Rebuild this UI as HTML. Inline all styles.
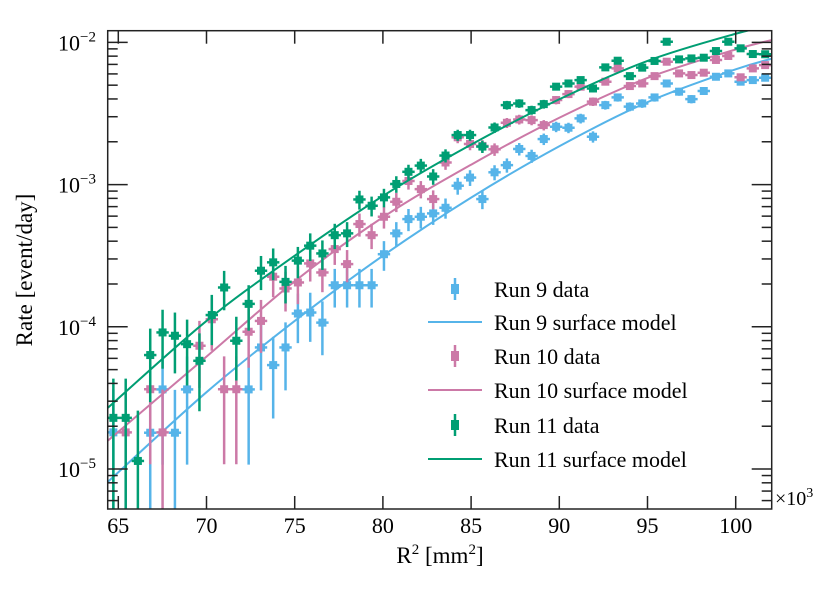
<!DOCTYPE html>
<html><head><meta charset="utf-8">
<style>
html,body{margin:0;padding:0;background:#fff;overflow:hidden;width:830px;height:599px;}
svg{display:block;}
svg text{font-family:"Liberation Serif",serif;fill:#000;}
</style></head>
<body>
<svg id="chart" width="830" height="599" xmlns="http://www.w3.org/2000/svg">
<defs><clipPath id="clip"><rect x="107.7" y="30.7" width="664" height="478.3"/></clipPath></defs>
<g id="series" clip-path="url(#clip)"></g>
<g id="axes"></g>
<g id="legend"></g>
</svg>
<script>
const binCenters = [64.72,65.42,66.11,66.81,67.51,68.21,68.90,69.60,70.30,71.00,71.69,72.39,73.09,73.78,74.48,75.18,75.88,76.57,77.27,77.97,78.67,79.36,80.06,80.76,81.45,82.15,82.85,83.55,84.24,84.94,85.64,86.33,87.03,87.73,88.43,89.12,89.82,90.52,91.21,91.91,92.61,93.31,94.00,94.70,95.40,96.09,96.79,97.49,98.19,98.88,99.58,100.28,100.97,101.67];
const run9Data = [1.81e-5,null,null,1.80e-5,3.63e-5,1.80e-5,3.63e-5,null,null,null,null,3.63e-5,7.16e-5,5.38e-5,7.16e-5,1.24e-4,1.26e-4,1.07e-4,1.96e-4,1.96e-4,1.96e-4,1.96e-4,3.24e-4,4.54e-4,5.72e-4,5.94e-4,6.27e-4,6.87e-4,9.82e-4,1.12e-3,7.91e-4,1.22e-3,1.37e-3,1.78e-3,1.59e-3,2.09e-3,2.55e-3,2.51e-3,2.92e-3,2.17e-3,3.62e-3,4.10e-3,3.53e-3,3.72e-3,4.10e-3,5.14e-3,4.50e-3,3.99e-3,4.55e-3,5.73e-3,6.05e-3,5.29e-3,5.43e-3,5.64e-3];
const run10Data = [null,1.81e-5,null,3.64e-5,1.81e-5,null,null,7.36e-5,1.13e-4,3.64e-5,3.64e-5,9.23e-5,1.10e-4,2.25e-4,1.86e-4,2.05e-4,2.79e-4,2.41e-4,3.52e-4,2.76e-4,5.28e-4,4.41e-4,5.94e-4,7.57e-4,1.06e-3,9.29e-4,7.91e-4,1.43e-3,2.15e-3,1.93e-3,1.87e-3,1.77e-3,2.72e-3,2.87e-3,2.84e-3,2.62e-3,3.93e-3,4.33e-3,4.88e-3,3.83e-3,5.29e-3,6.56e-3,4.93e-3,5.14e-3,5.79e-3,7.31e-3,6.05e-3,5.89e-3,6.12e-3,7.52e-3,8.02e-3,5.68e-3,6.56e-3,6.92e-3];
const run11Data = [2.29e-5,2.29e-5,1.14e-5,6.33e-5,9.13e-5,8.65e-5,7.55e-5,5.77e-5,1.21e-4,1.89e-4,7.98e-5,1.45e-4,2.48e-4,2.84e-4,2.07e-4,2.92e-4,3.72e-4,3.28e-4,4.41e-4,4.54e-4,7.86e-4,7.10e-4,8.13e-4,1.01e-3,1.23e-3,1.36e-3,1.14e-3,1.60e-3,2.23e-3,2.23e-3,1.85e-3,2.52e-3,3.62e-3,3.72e-3,3.34e-3,3.68e-3,4.88e-3,5.14e-3,5.43e-3,4.74e-3,6.67e-3,7.43e-3,5.79e-3,6.64e-3,7.40e-3,1.01e-2,7.59e-3,7.71e-3,7.80e-3,8.69e-3,1.01e-2,9.08e-3,8.28e-3,8.25e-3];
const modelX = [64.4,70,75,80,85,90,95,100,102.2];
const run9Model = [8.1e-6,3.47e-5,1.10e-4,3.16e-4,8.1e-4,1.86e-3,3.8e-3,6.46e-3,7.76e-3];
const run10Model = [1.58e-5,6.17e-5,2.09e-4,5.89e-4,1.38e-3,2.95e-3,5.62e-3,8.91e-3,1.05e-2];
const run11Model = [2.69e-5,1.10e-4,3.16e-4,8.32e-4,1.91e-3,3.98e-3,7.41e-3,1.15e-2,1.32e-2];
const xTicks = [65,70,75,80,85,90,95,100];
const yDecades = [-5,-4,-3,-2];
const legendLabels = ["Run 9 data","Run 9 surface model","Run 10 data","Run 10 surface model","Run 11 data","Run 11 surface model"];

const NS="http://www.w3.org/2000/svg";
const L=107.7,R=771.7,T=30.7,B=509;
const LMIN=-5.281,LMAX=-1.918;
function xs(v){return 118.3+(v-65)*17.64;}
function ys(v){return T+(LMAX-Math.log10(v))/(LMAX-LMIN)*(B-T);}
function mk(tag,attrs,parent){const e=document.createElementNS(NS,tag);for(const k in attrs)e.setAttribute(k,attrs[k]);parent.appendChild(e);return e;}
const gS=document.getElementById('series'),gA=document.getElementById('axes'),gL=document.getElementById('legend');
const colors=["#56B4E9","#CC79A7","#009E73"];
const datas=[run9Data,run10Data,run11Data];
const models=[run9Model,run10Model,run11Model];
const names=["run9","run10","run11"];

function smoothPath(xsArr,ysArr){
  const p=xsArr.map((x,i)=>[xs(x),ys(ysArr[i])]);
  let d="M"+p[0][0]+","+p[0][1];
  for(let i=0;i<p.length-1;i++){
    const p0=p[Math.max(0,i-1)],p1=p[i],p2=p[i+1],p3=p[Math.min(p.length-1,i+2)];
    const c1=[p1[0]+(p2[0]-p0[0])/6,p1[1]+(p2[1]-p0[1])/6];
    const c2=[p2[0]-(p3[0]-p1[0])/6,p2[1]-(p3[1]-p1[1])/6];
    d+=" C"+c1[0]+","+c1[1]+" "+c2[0]+","+c2[1]+" "+p2[0]+","+p2[1];
  }
  return d;
}

for(let s=0;s<3;s++){
  const g=mk('g',{},gS);
  
  
  const m=mk('path',{d:smoothPath(modelX,models[s]),fill:'none',stroke:colors[s],'stroke-width':2},g);
  
  
  datas[s].forEach((v,i)=>{
    if(v==null)return;
    const x=xs(binCenters[i]),y=ys(v);
    const rel=Math.sqrt(1.8e-5/v);
    const up=ys(v*(1+rel));
    const lo=(1-rel)>0.001?ys(v*(1-rel)):B+5;
    const pt=mk('g',{},g);
    
    
    mk('line',{x1:x,x2:x,y1:up,y2:lo,stroke:colors[s],'stroke-width':2.5},pt);
    mk('line',{x1:x-6.2,x2:x+6.2,y1:y,y2:y,stroke:colors[s],'stroke-width':2.5},pt);
    mk('rect',{x:x-4,y:y-4,width:8,height:8,fill:colors[s]},pt);
  });
}

const fr=mk('rect',{x:L,y:T,width:R-L,height:B-T,fill:'none',stroke:'#222','stroke-width':1.5},gA);


xTicks.forEach(t=>{
  const x=xs(t);
  mk('line',{x1:x,x2:x,y1:B,y2:B-13,stroke:'#222','stroke-width':1.5},gA);
  mk('line',{x1:x,x2:x,y1:T,y2:T+13,stroke:'#222','stroke-width':1.5},gA);
  const tx=mk('text',{x:x,y:B+24,'text-anchor':'middle','font-size':22},gA);
  tx.textContent=t;
  
  
});
for(let d=-6;d<=-2;d++){
  for(let k=1;k<10;k++){
    const lv=d+Math.log10(k);
    if(lv<LMIN||lv>LMAX)continue;
    const y=ys(Math.pow(10,lv));
    const len=k==1?20:10;
    mk('line',{x1:L,x2:L+len,y1:y,y2:y,stroke:'#222','stroke-width':1.5},gA);
    mk('line',{x1:R,x2:R-len,y1:y,y2:y,stroke:'#222','stroke-width':1.5},gA);
  }
}
yDecades.forEach(d=>{
  const y=ys(Math.pow(10,d));
  const tx=mk('text',{x:96,y:y+8,'text-anchor':'end','font-size':22},gA);
  
  
  tx.innerHTML='10<tspan dy="-9" font-size="15">\u2212'+(-d)+'</tspan>';
});
const mult=mk('text',{x:775,y:505,'font-size':20},gA);


mult.innerHTML='\u00d710<tspan dy="-8" font-size="14">3</tspan>';
const xt=mk('text',{x:440,y:563,'text-anchor':'middle','font-size':23},gA);


xt.innerHTML='R<tspan dy="-9" font-size="15">2</tspan><tspan dy="9"> [mm</tspan><tspan dy="-9" font-size="15">2</tspan><tspan dy="9">]</tspan>';
const yt=mk('text',{x:0,y:0,'text-anchor':'middle','font-size':23,transform:'translate(32,270) rotate(-90)'},gA);


yt.textContent='Rate [event/day]';

const rowsY=[289,322,356,390,425,459];
legendLabels.forEach((lab,i)=>{
  const c=colors[Math.floor(i/2)],y=rowsY[i];
  const g=mk('g',{},gL);
  
  
  if(i%2==0){
    mk('line',{x1:455,x2:455,y1:y-11,y2:y+11,stroke:c,'stroke-width':2.5},g);
    mk('rect',{x:451,y:y-5,width:8,height:10,fill:c},g);
  } else {
    mk('line',{x1:428,x2:482,y1:y,y2:y,stroke:c,'stroke-width':2},g);
  }
  const t=mk('text',{x:494,y:y+8,'font-size':22},g);
  t.textContent=lab;
});
</script>
</body></html>
